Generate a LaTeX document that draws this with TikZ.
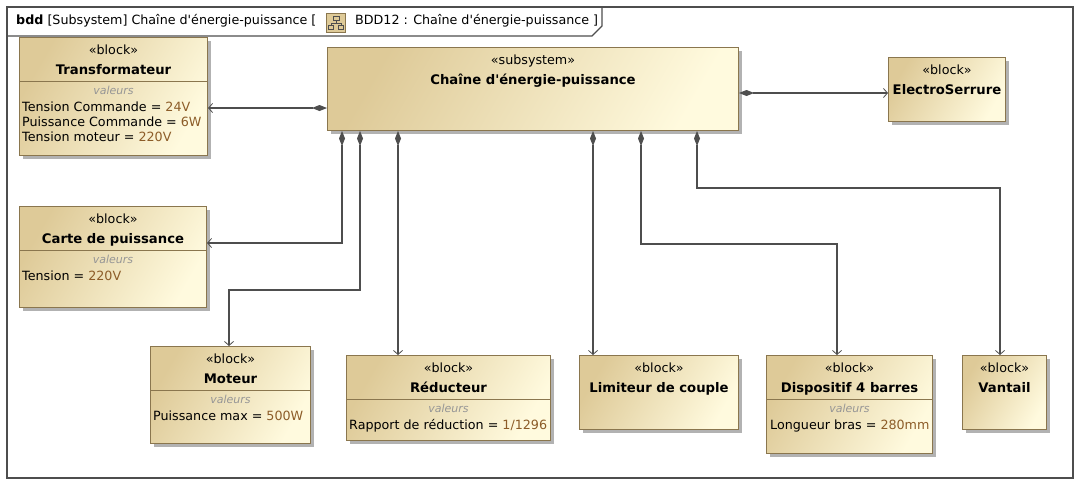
\documentclass[tikz,border=0pt]{standalone}
\usepackage{fontspec}
\setmainfont{DejaVu Sans}
\usetikzlibrary{positioning}
\usetikzlibrary{calc}
\usetikzlibrary{arrows.meta}
\usetikzlibrary{shadows}

\definecolor{blkdark}{RGB}{222,202,152}
\definecolor{blklight}{RGB}{255,250,222}
\definecolor{blkborder}{RGB}{138,118,78}
\definecolor{linegray}{RGB}{78,78,78}
\definecolor{valcol}{RGB}{140,92,40}
\definecolor{graytxt}{RGB}{150,150,150}

\tikzset{
  blk/.style={draw=blkborder, line width=1pt, top color=blkdark, bottom color=blklight,
    shading angle=60, anchor=north west, inner sep=0pt,
    drop shadow={shadow xshift=3pt, shadow yshift=-3pt, fill=black, opacity=0.3}},
  stereo/.style={anchor=base, inner sep=0pt, font=\fontsize{12.7}{15}\selectfont},
  bname/.style={anchor=base, inner sep=0pt, font=\fontsize{13.2}{15}\selectfont\bfseries},
  valhead/.style={anchor=base, inner sep=0pt, text=graytxt, font=\fontsize{11}{13}\selectfont\itshape},
  valline/.style={anchor=base west, inner sep=0pt, font=\fontsize{12.7}{15}\selectfont},
  sepline/.style={draw=blkborder, line width=1pt},
  comp/.style={draw=linegray, line width=1.1pt,
    {Diamond[length=15pt,width=6pt]}-{Straight Barb[length=4pt,width=9pt,line width=0.8pt]}},
  titletxt/.style={anchor=base west, inner sep=0pt, font=\fontsize{12.7}{15}\selectfont}
}

% en-tete d'un bloc : stereotype et nom
\newcommand{\blkhead}[3]{%
  \node[stereo] (#1-st) at ($(#1.north)+(0,17.5)$) {#2};
  \node[bname] (#1-nm) at ($(#1.north)+(0,37)$) {#3};
}
% compartiment des valeurs
\newcommand{\blkvals}[1]{%
  \draw[sepline] ($(#1.north west)+(0,44)$) -- ($(#1.north east)+(0,44)$);
  \node[valhead] (#1-vh) at ($(#1.north)+(0,57.5)$) {valeurs};
}
\newcommand{\ap}{\textquotesingle}

\begin{document}
\begin{tikzpicture}[x=1pt, y=-1pt]
  \useasboundingbox (0,0) rectangle (1079,485);
  \fill[white] (0,0) rectangle (1079,485);

  % cadre du diagramme
  \draw[draw=linegray, line width=1.3pt] (7,7) rectangle (1073,478);
  \draw[draw=linegray, line width=1.3pt] (7,36) -- (592,36) -- (602,26) -- (602,7);
  \node[titletxt] (titre) at (16,24.5) {\textbf{bdd} [Subsystem] Chaîne d\ap énergie-puissance [};
  \node[draw=blkborder, fill=blkdark, minimum width=19pt, minimum height=19pt, inner sep=0pt] (icone) at (336,22.5) {};
  \draw[linegray, line width=0.7pt] (333,16) rectangle (339,20);
  \draw[linegray, line width=0.7pt] (336,20) -- (336,23) (331,23) -- (341,23) (331,23) -- (331,25) (341,23) -- (341,25);
  \draw[linegray, line width=0.7pt] (328.5,25) rectangle (333.5,29) (338.5,25) rectangle (343.5,29);
  \node[titletxt] (titre2) at (355,24.5) {BDD12 : Chaîne d\ap énergie-puissance ]};

  % blocs
  \node[blk, minimum width=411pt, minimum height=83pt] (sub) at (327,47) {};
  \blkhead{sub}{«subsystem»}{Chaîne d\ap énergie-puissance}

  \node[blk, minimum width=188pt, minimum height=118pt] (transfo) at (19,37) {};
  \blkhead{transfo}{«block»}{Transformateur}
  \blkvals{transfo}
  \node[valline] (transfo-v1) at ($(transfo.north west)+(3,74)$) {Tension Commande = \textcolor{valcol}{24V}};
  \node[valline] (transfo-v2) at ($(transfo.north west)+(3,89)$) {Puissance Commande = \textcolor{valcol}{6W}};
  \node[valline] (transfo-v3) at ($(transfo.north west)+(3,104)$) {Tension moteur = \textcolor{valcol}{220V}};

  \node[blk, minimum width=117pt, minimum height=64pt] (serrure) at (888,57) {};
  \blkhead{serrure}{«block»}{ElectroSerrure}

  \node[blk, minimum width=187pt, minimum height=101pt] (carte) at (19,206) {};
  \blkhead{carte}{«block»}{Carte de puissance}
  \blkvals{carte}
  \node[valline] (carte-v1) at ($(carte.north west)+(3,74)$) {Tension = \textcolor{valcol}{220V}};

  \node[blk, minimum width=160pt, minimum height=97pt] (moteur) at (150,346) {};
  \blkhead{moteur}{«block»}{Moteur}
  \blkvals{moteur}
  \node[valline] (moteur-v1) at ($(moteur.north west)+(3,74)$) {Puissance max = \textcolor{valcol}{500W}};

  \node[blk, minimum width=204pt, minimum height=85pt] (reduc) at (346,355) {};
  \blkhead{reduc}{«block»}{Réducteur}
  \blkvals{reduc}
  \node[valline] (reduc-v1) at ($(reduc.north west)+(3,74)$) {Rapport de réduction = \textcolor{valcol}{1/1296}};

  \node[blk, minimum width=159pt, minimum height=74pt] (limit) at (579,355) {};
  \blkhead{limit}{«block»}{Limiteur de couple}

  \node[blk, minimum width=166pt, minimum height=98pt] (dispo) at (766,355) {};
  \blkhead{dispo}{«block»}{Dispositif 4 barres}
  \blkvals{dispo}
  \node[valline] (dispo-v1) at ($(dispo.north west)+(4,74)$) {Longueur bras = \textcolor{valcol}{280mm}};

  \node[blk, minimum width=84pt, minimum height=74pt] (vantail) at (962,355) {};
  \blkhead{vantail}{«block»}{Vantail}

  % compositions
  \draw[comp] ($(sub.north west)+(0,61)$) -- ($(transfo.north east)+(0,71)$);
  \draw[comp] ($(sub.north east)+(0,46)$) -- ($(serrure.north west)+(0,36)$);
  \draw[comp] ($(sub.south west)+(15,0)$) |- ($(carte.north east)+(0,37)$);
  \draw[comp] ($(sub.south west)+(33,0)$) -- ++(0,159) -| ($(moteur.north west)+(79,0)$);
  \draw[comp] ($(sub.south west)+(71,0)$) -- ($(reduc.north west)+(52,0)$);
  \draw[comp] ($(sub.south west)+(266,0)$) -- ($(limit.north west)+(14,0)$);
  \draw[comp] ($(sub.south west)+(314,0)$) -- ++(0,113) -| ($(dispo.north west)+(71,0)$);
  \draw[comp] ($(sub.south west)+(370,0)$) -- ++(0,57) -| ($(vantail.north west)+(38,0)$);
\end{tikzpicture}
\end{document}
